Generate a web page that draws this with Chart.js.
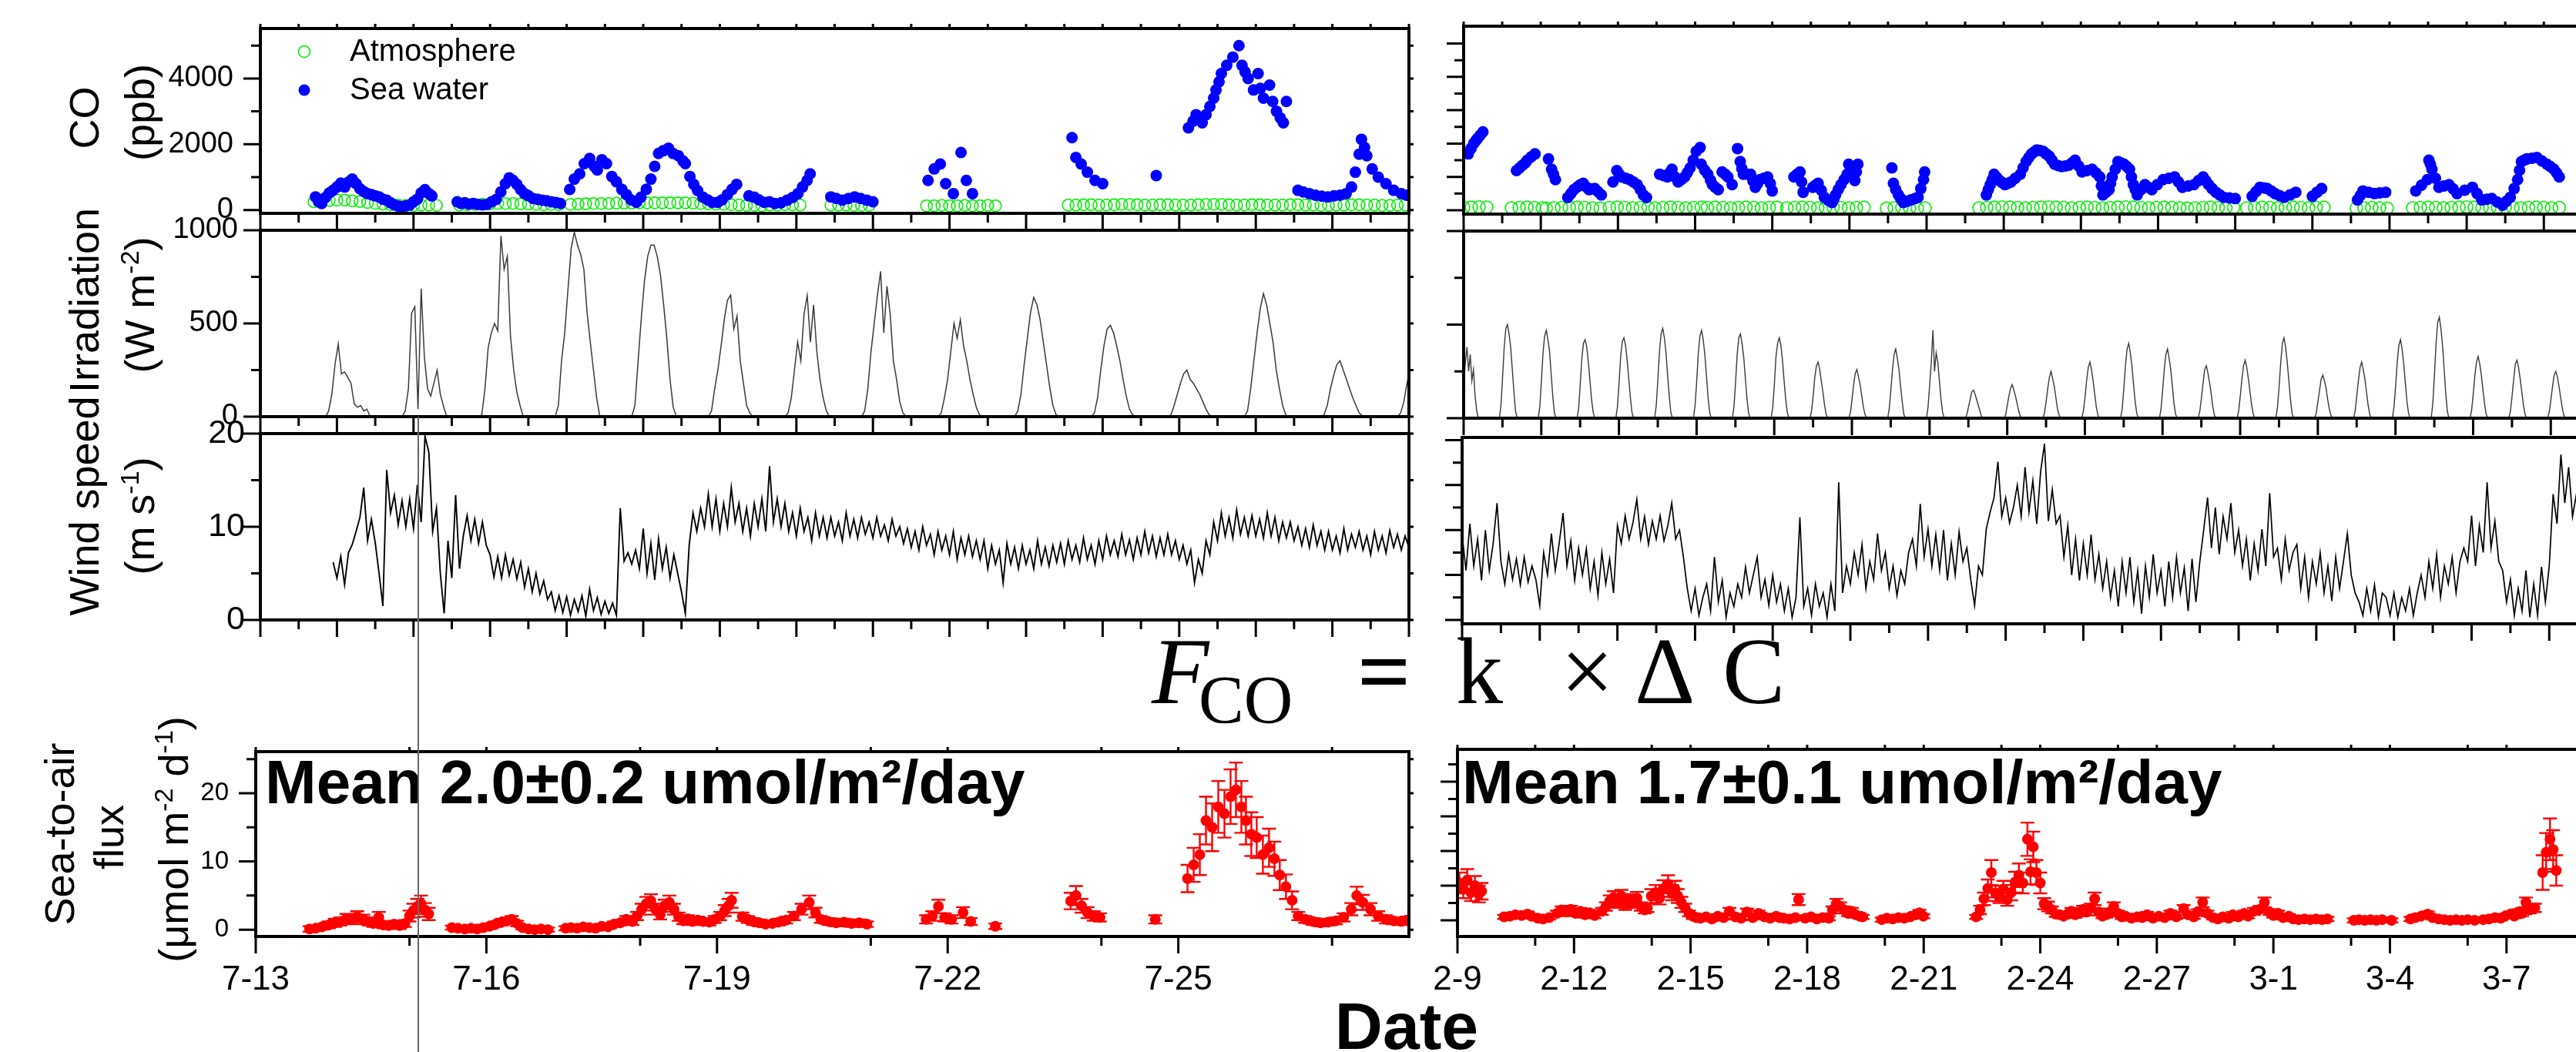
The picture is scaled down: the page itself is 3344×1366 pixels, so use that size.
<!DOCTYPE html>
<html>
<head>
<meta charset="utf-8">
<script src="https://cdn.jsdelivr.net/npm/chart.js@4.4.0/dist/chart.umd.min.js"></script>
<style>
  html, body { margin: 0; padding: 0; background: #fff; overflow: hidden; width: 3344px; height: 1366px; }
  canvas { position: absolute; }
  svg { position: absolute; left: 0; top: 0; }
</style>
</head>
<body>
<canvas id="coL"></canvas><canvas id="irrL"></canvas><canvas id="windL"></canvas><canvas id="fluxL"></canvas>
<canvas id="coR"></canvas><canvas id="irrR"></canvas><canvas id="windR"></canvas><canvas id="fluxR"></canvas>

<svg width="3344" height="1366" font-family="Liberation Sans, Arial, sans-serif">
  <g font-size="54" fill="#000">
    <text transform="translate(128,153) rotate(-90)" text-anchor="middle">CO</text>
    <text transform="translate(200,146) rotate(-90)" text-anchor="middle">(ppb)</text>
    <text transform="translate(128,390) rotate(-90)" text-anchor="middle">Irradiation</text>
    <text transform="translate(200,396) rotate(-90)" text-anchor="middle">(W m<tspan dy="-20" font-size="34">-2</tspan><tspan dy="20">)</tspan></text>
    <text transform="translate(128,657) rotate(-90)" text-anchor="middle">Wind speed</text>
    <text transform="translate(200,670) rotate(-90)" text-anchor="middle">(m s<tspan dy="-20" font-size="34">-1</tspan><tspan dy="20">)</tspan></text>
    <text transform="translate(96,1083) rotate(-90)" text-anchor="middle">Sea-to-air</text>
    <text transform="translate(160,1087) rotate(-90)" text-anchor="middle">flux</text>
    <text transform="translate(244,1090) rotate(-90)" text-anchor="middle">(μmol m<tspan dy="-20" font-size="34">-2</tspan><tspan dy="20"> d</tspan><tspan dy="-20" font-size="34">-1</tspan><tspan dy="20">)</tspan></text>
  </g>
  <g font-family="Liberation Serif, DejaVu Serif, serif" fill="#000">
    <text x="1495" y="913" font-size="122" font-style="italic">F</text>
    <text x="1556" y="938" font-size="88">CO</text>
    <text x="1762" y="913" font-size="122" font-weight="bold">=</text>
    <text x="1890" y="913" font-size="122">k</text>
    <text x="2026" y="913" font-size="122">×</text>
    <text x="2122" y="913" font-size="122">Δ</text>
    <text x="2236" y="913" font-size="122">C</text>
  </g>
  <text x="1826" y="1362" text-anchor="middle" font-size="86" font-weight="bold">Date</text>
  <line x1="543" y1="541" x2="543" y2="1366" stroke="#666" stroke-width="2"/>
</svg>

<script>
// ---- axis labels ----
const leftDays = [0, 3, 6, 9, 12];
const leftDates = ['7-13', '7-16', '7-19', '7-22', '7-25'];
const rightDays = [0, 3, 6, 9, 12, 15, 18, 21, 24, 27];
const rightDates = ['2-9', '2-12', '2-15', '2-18', '2-21', '2-24', '2-27', '3-1', '3-4', '3-7'];
const meanLeft = 'Mean 2.0±0.2 umol/m²/day';
const meanRight = 'Mean 1.7±0.1 umol/m²/day';

// ---- CO (ppb), days since 7-13 / 2-9 ----
const coSeaL = [
  [0.72,400],[0.76,250],[0.8,200],[0.85,380],[0.9,520],[0.95,600],[1.0,700],[1.05,820],[1.1,700],[1.15,850],[1.2,940],[1.25,800],[1.3,650],[1.35,560],[1.4,500],[1.45,470],[1.5,430],[1.55,400],[1.6,330],[1.65,300],[1.7,220],[1.75,160],[1.8,120],[1.85,100],[1.9,130],[1.95,150],[2.0,250],[2.05,330],[2.1,520],[2.15,620],[2.2,500],[2.24,430],
  [2.57,250],[2.62,200],[2.67,220],[2.72,180],[2.78,200],[2.84,170],[2.9,160],[2.96,170],[3.02,250],[3.08,320],[3.14,550],[3.2,800],[3.25,980],[3.3,900],[3.35,780],[3.4,620],[3.45,500],[3.5,440],[3.56,350],[3.62,330],[3.68,300],[3.74,280],[3.8,250],[3.86,230],[3.92,200],
  [4.04,627],[4.1,940],[4.17,1100],[4.23,1410],[4.3,1570],[4.36,1330],[4.4,1220],[4.46,1530],[4.52,1410],[4.59,1020],[4.65,860],[4.72,630],[4.78,470],[4.84,310],[4.91,235],[4.97,390],[5.04,630],[5.1,940],[5.15,1330],[5.2,1720],[5.26,1800],[5.33,1880],[5.39,1720],[5.46,1650],[5.52,1490],[5.55,1410],[5.61,1020],[5.66,780],[5.71,590],[5.78,390],[5.84,310],[5.9,235],[5.97,235],[6.03,310],[6.1,470],[6.16,630],[6.22,780],
  [6.38,430],[6.45,390],[6.51,310],[6.58,235],[6.65,250],[6.72,200],[6.8,220],[6.88,300],[6.95,380],[7.02,500],[7.08,700],[7.14,900],[7.18,1100],
  [7.45,400],[7.52,350],[7.6,300],[7.68,350],[7.76,400],[7.84,350],[7.92,300],[8.0,250],
  [8.72,900],[8.8,1250],[8.88,1400],[8.95,800],[9.05,500],[9.15,1750],[9.22,900],[9.3,500],
  [10.6,2200],[10.65,1600],[10.72,1400],[10.8,1150],[10.9,900],[11.0,800],
  [11.7,1050],
  [12.12,2500],[12.18,2700],[12.22,2900],[12.3,2650],[12.35,2900],[12.4,3150],[12.45,3400],[12.48,3650],[12.52,3900],[12.55,4150],[12.62,4400],[12.7,4650],[12.78,5000],[12.82,4400],[12.86,4200],[12.9,4000],[12.97,3650],[13.03,4150],[13.06,3700],[13.1,3400],[13.18,3800],[13.22,3300],[13.27,3000],[13.32,2800],[13.36,2650],[13.4,3300],
  [13.55,600],[13.62,550],[13.7,500],[13.78,450],[13.86,420],[13.94,400],[14.02,430],[14.1,450],[14.18,500],[14.25,700],[14.3,1150],[14.35,1700],[14.38,2150],[14.42,1900],[14.45,1650],[14.52,1250],[14.6,1000],[14.7,800],[14.8,600],[14.9,500],[14.97,450]
];
const atmLStart = [0.7, 2.6, 4.05, 6.65, 7.45, 8.7, 10.55];
const atmL = [
  [250,270,290,300,300,280,260,230,200,180,160,150,140,140,150,150,140],
  [150,160,170,180,190,200,200,200,190,180,170,160,170,160],
  [170,180,190,200,200,200,210,210,210,220,220,220,220,220,220,220,210,200,190,180,170,160,150,140,140,130],
  [150,150,160,160,150],
  [150,150,150,140,140,140],
  [130,130,140,130,130,140,130,130,140,130],
  [150,150,160,160,150,150,160,170,170,160,150,150,160,160,150,150,150,160,170,170,170,160,150,150,160,160,150,150,150,160,160,150,150,140,140,150,150,160,160,150,150,140,140,150,150]
];
const coSeaR = [
  [0.12,1690],[0.19,1850],[0.26,2000],[0.31,2080],[0.36,2150],[0.43,2250],[0.5,2350],
  [1.37,1190],[1.45,1270],[1.53,1350],[1.6,1420],[1.65,1500],[1.75,1600],[1.85,1690],
  [2.2,1540],[2.28,1230],[2.33,1080],[2.38,920],
  [2.7,380],[2.78,500],[2.86,620],[2.95,700],[3.02,760],[3.1,810],[3.18,700],[3.25,620],[3.33,640],[3.4,650],[3.48,560],[3.57,460],
  [3.87,850],[3.97,1190],[4.03,1080],[4.1,1000],[4.2,960],[4.3,920],[4.4,850],[4.5,770],[4.58,620],[4.66,460],[4.74,380],
  [5.08,1080],[5.18,1040],[5.28,1000],[5.34,1120],[5.4,1230],[5.48,1000],[5.56,850],[5.64,920],[5.73,1000],[5.8,1130],[5.87,1270],[5.95,1500],[6.03,1770],[6.13,1880],[6.16,1380],
  [6.25,1200],[6.33,1080],[6.4,900],[6.45,770],[6.52,690],[6.6,620],[6.7,1150],[6.78,1080],[6.85,1000],[6.96,770],[7.1,1850],[7.17,1460],[7.21,1250],[7.25,1080],[7.35,1080],[7.44,1080],[7.5,880],[7.56,690],[7.62,800],[7.68,920],[7.78,960],[7.88,1000],[7.95,800],[8.0,580],
  [8.56,1000],[8.64,1080],[8.72,1150],[8.76,850],[8.8,540],
  [9.05,690],[9.12,750],[9.19,810],[9.27,600],[9.35,390],[9.45,300],[9.55,230],[9.6,350],[9.64,460],[9.71,620],[9.78,770],[9.86,920],[9.94,1080],[9.98,1380],[10.06,1150],[10.14,890],[10.18,1150],[10.22,1380],
  [11.1,1270],[11.14,810],[11.2,620],[11.27,460],[11.33,350],[11.4,230],[11.5,270],[11.6,310],[11.7,350],[11.78,390],[11.85,650],[11.92,920],[11.95,1150],
  [13.55,460],[13.6,620],[13.65,770],[13.7,920],[13.75,1080],[13.82,980],[13.89,890],[13.96,830],[14.03,770],[14.11,810],[14.19,850],[14.3,960],[14.43,1080],[14.5,1270],[14.58,1460],[14.65,1580],[14.72,1690],[14.79,1750],[14.86,1810],[14.94,1790],[15.02,1770],[15.1,1690],[15.18,1620],[15.25,1500],[15.32,1380],[15.41,1340],[15.5,1310],[15.6,1330],[15.69,1350],[15.77,1420],[15.85,1500],[15.94,1330],[16.03,1150],[16.16,1190],[16.29,1230],[16.39,1120],[16.49,1000],[16.53,730],[16.57,460],[16.65,540],[16.73,620],[16.77,810],[16.81,1000],[16.89,1230],[16.96,1460],[17.04,1420],[17.12,1380],[17.19,1310],[17.26,1230],[17.31,1000],[17.36,770],[17.41,620],[17.46,460],[17.56,620],[17.66,770],[17.75,690],[17.84,620],[17.98,770],[18.13,920],[18.28,960],[18.43,1000],[18.53,850],[18.63,690],[18.78,730],[18.93,770],[19.05,890],[19.17,1000],[19.24,880],[19.31,770],[19.4,650],[19.5,540],[19.6,460],[19.7,390],[19.85,370],[20.0,350],
  [20.44,420],[20.54,560],[20.64,690],[20.74,670],[20.83,650],[20.93,580],[21.03,500],[21.15,440],[21.27,390],[21.42,460],[21.57,540],
  [22.0,420],[22.12,540],[22.24,650],
  [23.17,310],[23.24,440],[23.31,580],[23.46,540],[23.61,500],[23.75,520],[23.9,540],
  [24.68,580],[24.83,750],[24.98,920],[25.02,1500],[25.06,1380],[25.1,1230],[25.19,960],[25.28,690],[25.41,730],[25.54,770],[25.65,640],[25.75,500],[25.95,600],[26.15,690],[26.27,500],[26.39,310],[26.52,330],[26.65,350],[26.79,250],[26.93,150],[27.03,270],[27.13,390],[27.23,650],[27.32,920],[27.37,1200],[27.42,1460],[27.49,1500],[27.56,1540],[27.69,1560],[27.82,1580],[27.95,1480],[28.08,1380],[28.17,1310],[28.26,1230],[28.33,1120],[28.4,1000]
];
const atmRStart = [0.0, 1.24, 2.14, 3.78, 4.96, 6.32, 8.38, 10.96, 13.36, 20.3, 23.14, 24.6];
const atmR = [
  [80,90,100,90],
  [70,80,90,80,70],
  [60,70,80,80,90,80,70,60],
  [80,90,80,70,80,90],
  [70,80,90,80,70,80,90],
  [80,90,80,70,80,90,80,70,80,90],
  [70,80,90,80,70,80,90,80,70,80,90],
  [60,70,80,70,60,70],
  [70,80,90,100,90,80,70,80,90,100,90,80,70,80,90,80,70,80,90,100,90,80,70,80,90,80,70,60,70,80,90,80,70,80],
  [70,80,90,80,70,80,90,80,70,80,90],
  [60,70,80,70,60],
  [70,80,90,80,70,80,90,100,90,80,70,80,90,80,70,80,90,80,70,80]
];

// ---- Irradiation (W m-2), hourly from sunrise ----
const irrLDays = [0.85,1.85,2.85,3.85,4.85,5.85,6.85,7.85,8.85,9.85,10.85,11.85,12.85,13.85,14.85];
const irrL = [
  [0,30,120,280,390,230,240,210,180,70,50,60,30,40,0],
  [0,30,150,555,590,40,687,320,150,110,180,250,120,56,0],
  [0,10,150,370,450,500,460,970,790,860,430,250,130,60,0],
  [0,60,300,450,680,900,990,920,870,790,560,400,250,100,0],
  [0,60,300,530,730,860,920,920,860,760,600,420,200,50,0],
  [0,30,150,250,380,520,625,653,470,540,300,180,60,20,0],
  [0,20,100,250,400,300,550,650,400,600,350,200,100,30,0],
  [0,30,150,350,500,650,780,450,700,550,300,200,80,20,0],
  [0,20,100,200,350,500,420,520,380,300,200,120,50,10,0],
  [0,30,120,280,420,560,640,600,520,400,280,160,60,10,0],
  [0,20,100,250,380,470,490,450,380,300,200,110,40,10,0],
  [0,10,60,120,180,230,250,200,180,150,120,80,40,10,0],
  [0,30,150,300,450,580,660,600,500,400,250,150,60,10,0],
  [0,10,60,150,220,280,300,250,200,150,100,60,20,5,0],
  [0,20,80,180,260,250,240,200,150,100,60,30,10,0,0]
];
const irrRDays = [-0.08,0.92,1.92,2.92,3.92,4.92,5.92,6.92,7.92,8.92,9.92,10.92,11.92,12.92,13.92,14.92,15.92,16.92,17.92,18.92,19.92,20.92,21.92,22.92,23.92,24.92,25.92,26.92,27.92];
const irrR = [
  [0,60,180,300,380,250,340,200,260,120,40,0],
  [0,70,220,380,480,500,450,380,260,140,40,0],
  [0,60,200,350,440,470,420,360,240,120,30,0],
  [0,50,180,320,400,420,380,300,200,100,30,0],
  [0,60,190,330,410,430,390,310,210,110,30,0],
  [0,70,210,360,450,480,430,350,230,120,30,0],
  [0,70,200,350,440,470,420,340,230,110,30,0],
  [0,60,190,340,430,450,400,330,220,110,30,0],
  [0,60,180,330,400,430,390,310,200,100,30,0],
  [0,40,120,220,280,300,260,200,140,70,20,0],
  [0,30,100,180,240,260,220,180,120,60,20,0],
  [0,50,150,260,340,370,320,260,170,90,20,0],
  [0,60,180,300,470,250,350,300,200,100,30,0],
  [0,20,60,100,140,150,130,100,70,40,10,0],
  [0,20,70,120,160,180,150,120,80,40,10,0],
  [0,30,90,160,220,250,210,170,110,50,15,0],
  [0,40,110,200,270,300,260,200,130,60,15,0],
  [0,50,160,280,370,400,350,280,180,90,25,0],
  [0,50,150,260,340,370,320,260,170,80,20,0],
  [0,40,110,190,260,280,240,190,130,60,15,0],
  [0,40,120,210,280,310,270,210,140,70,20,0],
  [0,60,170,300,400,430,380,300,200,100,25,0],
  [0,30,90,150,210,230,200,160,100,50,15,0],
  [0,40,120,200,270,300,260,210,140,70,20,0],
  [0,60,170,300,390,420,370,290,190,90,25,0],
  [0,80,230,400,510,540,480,390,260,130,35,0],
  [0,45,130,230,300,330,290,230,150,75,20,0],
  [0,40,120,210,290,310,270,210,140,70,20,0],
  [0,35,100,170,230,250,220,170,110,55,15,0]
];

// ---- Wind speed (m s-1) ----
const windLStart = 0.95;  // every 0.05 day
const windL = [
  6.2,4.5,6.8,3.8,7.2,8.1,9.5,11.0,14.2,8.5,
  10.8,8.3,5.0,1.5,16.1,11.5,13.4,10.2,12.8,10.0,
  13.0,9.8,14.5,10.5,19.7,18.0,9.5,12.0,5.0,0.7,
  8.5,4.5,13.4,5.5,9.0,11.2,8.5,10.8,8.2,10.5,
  8.0,7.0,4.6,6.8,4.5,7.0,4.8,6.5,4.4,6.2,
  3.5,5.5,3.0,5.0,2.8,4.2,2.2,3.0,1.0,2.6,
  0.8,2.5,0.5,2.2,0.9,2.6,0.4,3.3,1.0,2.4,
  0.6,2.0,0.7,1.8,0.5,12.0,6.3,7.2,6.0,7.5,
  5.5,9.8,5.0,8.2,4.3,8.7,5.5,7.8,4.5,7.0,
  5.0,3.0,0.7,8.0,11.5,9.5,12.0,10.0,13.5,10.0,
  13.0,9.5,12.5,10.0,14.2,10.5,12.5,9.5,12.0,9.0,
  12.5,10.0,13.0,9.5,16.5,10.5,13.0,10.0,12.5,9.5,
  11.5,9.0,12.0,9.5,11.0,8.5,11.5,9.0,11.0,8.8,
  11.0,9.0,10.5,8.5,11.5,9.0,10.8,8.8,11.0,9.2,
  10.5,8.8,11.0,9.0,10.2,8.5,10.8,9.0,10.0,8.2,
  9.8,7.8,9.5,7.5,10.0,8.0,9.2,7.0,9.5,7.5,
  9.0,7.0,9.5,6.5,8.8,7.0,9.0,6.8,8.5,6.5,
  8.5,5.5,8.0,6.0,7.5,4.0,8.2,6.0,7.8,5.5,
  8.0,6.0,7.5,5.5,8.5,6.0,7.8,5.8,8.0,6.2,
  8.2,6.0,8.5,6.5,8.0,6.2,8.8,6.5,8.0,6.0,
  8.5,6.5,9.0,7.0,8.5,6.8,9.2,7.0,8.6,6.5,
  8.8,7.0,9.5,7.2,9.0,6.8,8.8,7.0,9.2,7.0,
  8.5,6.5,8.0,6.0,7.5,4.0,6.5,5.0,8.5,7.0,
  10.5,8.5,11.5,9.0,11.0,8.8,11.8,9.2,11.0,9.0,
  11.2,9.0,10.8,8.8,11.5,9.0,11.0,8.5,10.5,8.8,
  10.5,8.5,10.0,8.0,9.8,7.8,10.2,8.0,9.5,7.5,
  9.5,7.5,9.0,7.2,9.8,7.5,9.2,7.8,9.5,7.5,
  9.0,7.0,9.5,7.5,9.0,7.2,9.6,7.8,9.2,7.5,
  9.0,7.8
];
const windRStart = 0;  // every 0.1 day
const windR = [
  9.5,5.5,10.7,6.0,9.0,4.4,10.0,5.5,8.5,13.0,
  6.5,4.0,7.3,4.5,6.8,3.9,7.0,4.2,6.0,4.5,
  1.6,7.5,5.0,9.6,5.5,8.5,11.9,6.0,8.8,4.4,
  8.0,5.0,7.9,3.5,6.5,2.7,7.5,4.0,6.8,3.0,
  10.5,8.5,11.6,9.0,10.8,13.4,9.0,11.5,8.4,11.0,
  9.0,11.6,8.8,10.5,13.0,9.0,10.0,7.0,3.5,1.0,
  3.5,0.5,2.5,4.0,1.0,7.0,2.0,4.4,0.3,3.0,
  1.5,4.0,2.5,5.9,3.0,5.0,7.0,2.5,4.5,1.6,
  5.0,2.0,4.0,1.0,3.5,0.3,2.5,11.4,1.5,3.5,
  0.5,4.0,1.5,3.0,0.3,4.0,1.0,15.3,3.0,6.0,
  4.0,7.5,5.0,8.4,3.5,6.5,4.5,9.6,5.5,7.5,
  3.5,6.0,2.7,5.5,4.0,7.5,9.0,6.0,12.9,7.0,
  10.1,6.0,9.5,5.5,10.0,4.4,8.5,5.0,9.8,6.5,
  8.0,4.5,1.6,6.0,5.0,10.1,12.0,13.6,17.6,11.5,
  13.6,10.8,12.5,15.0,11.5,17.0,12.0,15.5,10.7,16.5,
  19.6,11.0,14.5,10.7,11.6,7.0,10.5,5.0,9.0,4.4,
  8.5,5.0,9.5,4.5,7.3,3.5,6.5,2.5,5.5,1.5,
  6.5,3.0,7.0,2.0,5.5,0.7,6.0,2.5,7.3,3.0,
  5.5,1.5,6.5,2.5,7.0,3.0,5.8,1.0,6.8,2.0,
  6.5,10.0,13.6,8.0,12.5,7.3,11.5,9.0,13.0,7.5,
  10.0,6.0,9.0,4.4,8.5,5.5,10.1,6.0,14.1,7.0,
  8.0,4.5,9.0,5.5,7.5,8.4,3.5,7.0,2.5,6.5,
  4.0,7.5,3.0,6.0,2.1,7.0,3.5,6.5,9.6,5.0,
  3.0,2.0,0.5,3.5,1.0,3.9,0.3,3.0,2.5,0.5,
  3.0,0.3,2.5,1.0,3.5,0.5,3.0,5.0,2.5,6.5,
  3.5,7.3,2.5,6.0,4.0,7.0,3.0,6.5,8.0,6.5,
  11.6,6.0,10.5,7.5,15.3,8.0,11.0,6.5,5.5,2.0,
  4.5,0.5,3.5,1.0,5.5,0.3,4.0,0.5,5.9,2.0,
  6.0,14.0,10.7,18.4,13.0,17.0,11.5,14.0,12.0,15.0
];

// ---- Sea-to-air flux [day, value, error] ----
const fluxL = [
  [0.70,0.1,0.4],[0.78,0.2,0.4],[0.86,0.4,0.4],[0.95,0.7,0.5],[1.03,1.0,0.6],[1.1,1.2,0.6],[1.18,1.6,0.7],[1.25,1.5,0.7],[1.32,1.9,0.8],[1.4,1.5,0.7],[1.47,1.2,0.6],[1.53,0.9,0.5],[1.6,1.8,0.8],[1.66,0.7,0.5],[1.73,0.6,0.5],[1.8,0.8,0.5],[1.87,0.6,0.5],[1.94,0.9,0.5],[2.0,2.0,0.8],[2.05,2.8,1.0],[2.1,3.4,1.1],[2.15,3.8,1.2],[2.2,2.9,1.0],[2.25,2.3,0.9],
  [2.55,0.3,0.3],[2.63,0.2,0.3],[2.72,0.1,0.3],[2.8,0.2,0.3],[2.88,0.1,0.3],[2.96,0.3,0.3],[3.04,0.5,0.4],[3.12,0.8,0.4],[3.2,1.1,0.5],[3.27,1.3,0.5],[3.33,1.5,0.5],[3.4,0.9,0.4],[3.47,0.3,0.3],[3.55,0.1,0.3],[3.63,0.0,0.3],[3.71,0.1,0.3],[3.8,0.0,0.3],
  [4.03,0.2,0.3],[4.1,0.3,0.3],[4.18,0.2,0.3],[4.26,0.4,0.3],[4.34,0.3,0.3],[4.42,0.2,0.3],[4.5,0.5,0.3],[4.58,0.4,0.3],[4.66,0.8,0.4],[4.74,1.0,0.4],[4.82,1.5,0.5],[4.9,1.2,0.5],[4.96,2.0,0.6],[5.02,3.0,0.8],[5.08,3.8,1.0],[5.14,4.2,1.0],[5.2,3.0,0.8],[5.26,2.2,0.7],[5.32,3.5,0.9],[5.38,4.0,1.0],[5.44,3.0,0.8],[5.5,1.9,0.6],[5.56,1.3,0.5],[5.62,1.6,0.5],[5.68,1.2,0.5],[5.75,1.4,0.5],[5.82,1.2,0.5],[5.9,1.1,0.5],[5.97,1.5,0.5],[6.04,2.0,0.6],[6.1,2.8,0.8],[6.15,3.5,1.0],[6.19,4.3,1.1],
  [6.33,1.9,0.6],[6.4,1.5,0.5],[6.47,1.2,0.5],[6.55,1.0,0.5],[6.63,0.8,0.4],[6.72,0.9,0.4],[6.8,1.1,0.5],[6.9,1.4,0.5],[7.0,2.0,0.6],[7.1,3.0,0.8],[7.2,4.0,1.0],[7.28,2.5,0.7],[7.35,1.5,0.5],
  [7.45,1.2,0.5],[7.55,1.0,0.5],[7.65,1.1,0.5],[7.75,0.9,0.5],[7.85,1.0,0.5],[7.95,0.8,0.4],
  [8.72,1.5,0.6],[8.8,2.0,0.7],[8.88,3.4,1.0],[8.96,1.8,0.6],[9.05,1.5,0.6],[9.2,2.5,0.8],[9.3,1.2,0.5],[9.62,0.5,0.4],
  [10.6,4.2,1.2],[10.67,5.0,1.4],[10.74,3.5,1.0],[10.82,2.5,0.8],[10.9,2.0,0.7],[10.98,1.8,0.6],[11.7,1.5,0.6],
  [12.12,7.5,2.0],[12.2,9.5,2.5],[12.28,11,3],[12.36,16,3.5],[12.44,15,3.5],[12.52,18,3.8],[12.6,17,3.5],[12.68,19.5,4],[12.75,20.5,4],[12.82,18,3.8],[12.88,16,3.5],[12.95,14,3.2],[13.02,13.5,3.0],[13.1,11,2.8],[13.18,12,2.8],[13.25,10.4,2.5],[13.32,8,2.2],[13.4,6.3,1.8],[13.48,4.3,1.3],
  [13.56,2.0,0.6],[13.65,1.5,0.5],[13.75,1.2,0.5],[13.85,1.0,0.5],[13.95,1.1,0.5],[14.05,1.3,0.5],[14.15,1.8,0.6],[14.25,3.0,0.9],[14.32,5.0,1.3],[14.4,4.0,1.1],[14.5,3.0,0.9],[14.6,2.0,0.7],[14.7,1.5,0.6],[14.8,1.3,0.5],[14.9,1.2,0.5],[14.97,1.4,0.5]
];
const fluxR = [
  [0.05,5.4,1.5],[0.15,4.5,1.3],[0.25,5.8,1.6],[0.35,4.0,1.2],[0.45,5.0,1.4],[0.55,3.8,1.2],[0.62,4.2,1.2],
  [1.2,0.5,0.3],[1.35,0.6,0.3],[1.49,0.8,0.3],[1.65,0.7,0.3],[1.8,0.9,0.4],[1.9,0.6,0.3],
  [2.07,0.3,0.3],[2.2,0.2,0.3],[2.36,0.4,0.3],
  [2.56,1.0,0.4],[2.68,1.5,0.5],[2.8,1.2,0.5],[2.92,1.6,0.5],[3.04,1.0,0.4],[3.16,1.3,0.5],[3.28,0.8,0.4],[3.4,1.1,0.4],[3.53,0.7,0.4],
  [3.72,1.3,0.5],[3.82,2.0,0.6],[3.92,2.8,0.8],[4.02,3.3,0.9],[4.12,2.5,0.7],[4.22,3.5,0.9],[4.32,2.2,0.7],[4.42,3.0,0.8],[4.52,2.5,0.7],[4.62,3.2,0.9],[4.72,2.0,0.6],[4.82,1.5,0.5],[4.89,1.8,0.6],
  [4.99,3.5,1.0],[5.1,4.0,1.1],[5.2,3.2,0.9],[5.3,4.6,1.2],[5.42,5.2,1.3],[5.52,4.0,1.1],[5.6,4.5,1.2],[5.67,3.5,1.0],[5.76,2.6,0.8],[5.86,1.8,0.6],[5.96,1.0,0.4],[6.06,0.6,0.4],[6.15,0.4,0.3],
  [6.25,0.3,0.3],[6.4,0.5,0.3],[6.55,0.2,0.3],[6.7,0.6,0.3],[6.85,0.4,0.3],[7.0,1.3,0.5],[7.15,0.5,0.3],[7.3,0.3,0.3],[7.45,1.2,0.5],[7.6,0.4,0.3],[7.75,1.0,0.4],[7.9,0.5,0.3],[8.05,0.3,0.3],[8.2,0.6,0.3],[8.29,0.4,0.3],
  [8.4,0.3,0.3],[8.55,0.2,0.3],[8.7,0.4,0.3],[8.78,3.0,0.8],[8.95,0.3,0.3],[9.1,0.5,0.3],[9.25,0.2,0.3],[9.4,0.4,0.3],[9.56,0.3,0.3],
  [9.65,1.5,0.5],[9.75,2.4,0.7],[9.85,2.0,0.6],[9.95,1.5,0.5],[10.05,1.0,0.4],[10.15,1.3,0.5],[10.25,0.8,0.4],[10.35,0.6,0.3],[10.43,0.5,0.3],
  [10.92,0.1,0.3],[11.05,0.3,0.3],[11.2,0.2,0.3],[11.35,0.4,0.3],[11.5,0.3,0.3],[11.65,0.5,0.3],[11.8,0.8,0.4],[11.89,1.1,0.4],[11.99,0.6,0.3],
  [13.35,0.5,0.3],[13.45,1.5,0.6],[13.55,3.1,0.9],[13.65,4.6,1.3],[13.74,6.9,1.8],[13.85,3.9,1.1],[13.95,3.5,1.0],[14.05,4.5,1.2],[14.15,3.0,0.9],[14.25,4.0,1.1],[14.35,5.5,1.5],[14.45,6.5,1.7],[14.55,5.4,1.5],[14.67,11.7,2.4],[14.75,7.0,1.8],[14.82,10.6,2.2],[14.9,6.9,1.8],[15.0,5.4,1.5],[15.1,2.4,0.8],[15.2,2.0,0.7],[15.3,1.5,0.5],[15.4,0.9,0.4],
  [15.5,0.8,0.4],[15.6,0.6,0.3],[15.7,0.9,0.4],[15.8,1.3,0.5],[15.9,0.8,0.4],[16.0,1.0,0.4],[16.1,1.6,0.5],[16.2,1.2,0.5],[16.3,1.8,0.6],[16.4,3.1,0.9],[16.5,1.2,0.5],[16.6,0.6,0.3],[16.7,0.8,0.4],[16.8,1.2,0.5],[16.89,2.0,0.6],[17.0,1.0,0.4],[17.1,0.5,0.3],[17.2,0.6,0.3],[17.35,0.3,0.3],[17.5,0.5,0.3],[17.62,0.4,0.3],[17.75,0.8,0.4],[17.9,0.3,0.3],[18.05,0.6,0.3],[18.2,0.4,0.3],[18.35,1.0,0.4],[18.5,0.5,0.3],[18.69,1.7,0.5],[18.8,0.8,0.4],[18.95,0.5,0.3],[19.05,1.2,0.4],[19.18,2.6,0.7],[19.3,1.0,0.4],[19.45,0.4,0.3],[19.57,0.2,0.3],
  [19.7,0.5,0.3],[19.85,0.3,0.3],[19.96,0.8,0.4],[20.1,0.5,0.3],[20.25,1.0,0.4],[20.35,0.6,0.3],[20.5,1.3,0.5],[20.65,1.6,0.5],[20.77,2.6,0.7],[20.9,1.2,0.4],[21.0,0.7,0.3],[21.12,1.0,0.4],[21.25,0.4,0.3],[21.4,0.6,0.3],[21.51,0.2,0.3],[21.65,0.1,0.3],[21.8,0.2,0.3],[21.95,0.1,0.3],[22.1,0.2,0.3],[22.25,0.1,0.3],[22.39,0.2,0.3],
  [23.07,0.0,0.3],[23.2,0.1,0.3],[23.35,0.0,0.3],[23.5,0.1,0.3],[23.65,0.0,0.3],[23.8,0.1,0.3],[24.04,0.0,0.3],
  [24.53,0.2,0.3],[24.65,0.4,0.3],[24.8,0.6,0.3],[24.97,0.9,0.4],[25.1,0.4,0.3],[25.25,0.2,0.3],[25.4,0.1,0.3],[25.55,0.0,0.3],[25.7,0.1,0.3],[25.85,0.0,0.3],[26.0,0.1,0.3],[26.18,0.0,0.3],
  [26.4,0.1,0.3],[26.55,0.2,0.3],[26.7,0.4,0.3],[26.85,0.3,0.3],[26.96,0.6,0.3],[27.1,0.9,0.4],[27.2,0.6,0.3],[27.3,1.2,0.4],[27.4,1.0,0.4],[27.5,2.6,0.7],[27.6,1.5,0.5],[27.73,1.8,0.6],
  [27.93,6.9,2.5],[28.02,9.8,2.8],[28.12,11.7,3.0],[28.2,10.2,2.8],[28.28,7.2,2.2]
];

// ---------- helpers ----------
const FONT = '"Liberation Sans", Arial, sans-serif';
const range = (a, b, s) => { const o = []; for (let v = a; v <= b + 1e-9; v += s) o.push(+v.toFixed(3)); return o; };
const pairs = arr => arr.map(p => ({x: p[0], y: p[1]}));
const segs = (starts, groups, step) => groups.flatMap((vals, j) => vals.map((v, i) => ({x: starts[j] + i * step, y: v})));

const green = (data, r) => ({label: 'Atmosphere', data, order: 2, pointRadius: r, pointBackgroundColor: 'rgba(255,255,255,0)', pointBorderColor: '#00ee00', pointBorderWidth: 1.6});
const blue = data => ({label: 'Sea water', data, order: 1, pointRadius: 7.5, pointBackgroundColor: '#0000ff', pointBorderColor: '#0000ff', pointBorderWidth: 0});
const line = (data, color, w) => ({data, showLine: true, pointRadius: 0, borderColor: color, borderWidth: w, tension: 0});
const flux = arr => ({data: pairs(arr), errors: arr.map(p => p[2]), pointRadius: 7, pointBackgroundColor: '#ff0000', pointBorderColor: '#ff0000', pointBorderWidth: 0});

// Origin-style frame with outward ticks
const framePlugin = {
  id: 'frame',
  afterDraw(chart, args, o) {
    const {ctx, chartArea: a} = chart;
    const x = chart.scales.x, y = chart.scales.y;
    const inX = v => v >= x.min && v <= x.max, inY = v => v >= y.min && v <= y.max;
    ctx.save();
    ctx.strokeStyle = '#000';
    ctx.lineWidth = 3;
    ctx.beginPath();
    const xt = (vals, len) => (vals || []).filter(inX).forEach(v => {
      const p = x.getPixelForValue(v);
      ctx.moveTo(p, a.bottom); ctx.lineTo(p, a.bottom + len);
      if (o.top) { ctx.moveTo(p, a.top); ctx.lineTo(p, a.top - 6); }
    });
    const yt = (vals, len) => (vals || []).filter(inY).forEach(v => {
      const p = y.getPixelForValue(v);
      ctx.moveTo(a.left - len, p); ctx.lineTo(a.left, p);
      if (o.right) { ctx.moveTo(a.right, p); ctx.lineTo(a.right + 6, p); }
    });
    xt(o.xMaj, 22); xt(o.xMin, 12); yt(o.yMaj, 22); yt(o.yMin, 12);
    ctx.stroke();
    ctx.lineWidth = 4;
    ctx.strokeRect(a.left, a.top, a.right - a.left, a.bottom - a.top);
    ctx.restore();
  }
};

const errorBars = {
  id: 'errorBars',
  beforeDatasetsDraw(chart) {
    const {ctx, chartArea: a} = chart;
    const x = chart.scales.x, y = chart.scales.y;
    chart.data.datasets.forEach(ds => {
      if (!ds.errors) return;
      ctx.save();
      ctx.beginPath(); ctx.rect(a.left, a.top, a.right - a.left, a.bottom - a.top); ctx.clip();
      ctx.strokeStyle = ds.pointBackgroundColor; ctx.lineWidth = 2.4;
      ctx.beginPath();
      ds.data.forEach((p, i) => {
        const px = x.getPixelForValue(p.x), e = ds.errors[i];
        const y1 = y.getPixelForValue(p.y - e), y2 = y.getPixelForValue(p.y + e);
        ctx.moveTo(px, y1); ctx.lineTo(px, y2);
        ctx.moveTo(px - 9, y1); ctx.lineTo(px + 9, y1);
        ctx.moveTo(px - 9, y2); ctx.lineTo(px + 9, y2);
      });
      ctx.stroke();
      ctx.restore();
    });
  }
};

const legendPlugin = {
  id: 'inLegend',
  afterDraw(chart, args, o) {
    if (!o.show) return;
    const {ctx, chartArea: a} = chart;
    ctx.save();
    ctx.font = '40px ' + FONT;
    ctx.textBaseline = 'middle';
    chart.data.datasets.forEach((ds, i) => {
      const cx = a.left + 57, cy = a.top + 30 + i * 50;
      ctx.beginPath(); ctx.arc(cx, cy, 7.5, 0, Math.PI * 2);
      if (ds.pointBorderWidth > 0) { ctx.strokeStyle = ds.pointBorderColor; ctx.lineWidth = ds.pointBorderWidth; ctx.stroke(); }
      else { ctx.fillStyle = ds.pointBackgroundColor; ctx.fill(); }
      ctx.fillStyle = '#000';
      ctx.fillText(ds.label, a.left + 116, cy + 1);
    });
    ctx.restore();
  }
};

const notePlugin = {
  id: 'note',
  afterDraw(chart, args, o) {
    if (!o.text) return;
    const {ctx, chartArea: a} = chart;
    ctx.save();
    ctx.font = 'bold 80px ' + FONT;
    ctx.fillStyle = '#000';
    ctx.textBaseline = 'alphabetic';
    ctx.fillText(o.text, a.left + o.dx, a.top + o.dy);
    ctx.restore();
  }
};

function panel(id, area, xr, yr, c) {
  const mL = c.mL, mB = c.mB, mT = 30, mR = c.mR;
  const cv = document.getElementById(id);
  const W = area.r - area.l + mL + mR, H = area.b - area.t + mT + mB;
  cv.width = W; cv.height = H;
  Object.assign(cv.style, {left: (area.l - mL) + 'px', top: (area.t - mT) + 'px', width: W + 'px', height: H + 'px'});
  const xt = c.xTicks;
  return new Chart(cv, {
    type: 'scatter',
    data: {datasets: c.datasets},
    options: {
      responsive: false, animation: false, devicePixelRatio: 1, events: [],
      layout: {padding: {left: 0, top: mT, right: mR, bottom: 0}},
      plugins: {legend: {display: false}, tooltip: {enabled: false}, frame: c.frame,
                inLegend: {show: !!c.legend}, note: c.note || {}},
      scales: {
        x: {type: 'linear', min: xr[0], max: xr[1],
            grid: {display: false, drawTicks: false}, border: {display: false},
            ticks: {display: !!xt, autoSkip: false, maxRotation: 0, minRotation: 0, padding: 30, color: '#000',
                    font: {family: FONT, size: 44}, callback: v => xt ? xt.labels[xt.days.indexOf(v)] : ''},
            afterBuildTicks: s => { s.ticks = (xt ? xt.days : []).map(v => ({value: v})); },
            afterFit: s => { s.height = mB; s.paddingLeft = 0; s.paddingRight = 0; }},
        y: {type: 'linear', min: yr[0], max: yr[1],
            grid: {display: false, drawTicks: false}, border: {display: false},
            ticks: {display: !!c.yTicks, padding: c.yPad || 30, color: '#000',
                    font: {family: FONT, size: c.ySize || 38}, callback: v => String(v)},
            afterBuildTicks: s => { s.ticks = (c.yTicks || []).map(v => ({value: v})); },
            afterFit: s => { s.width = mL; s.paddingTop = 0; s.paddingBottom = 0; }}
      }
    },
    plugins: [errorBars, framePlugin, legendPlugin, notePlugin]
  });
}

// ---------- layout (page pixels) ----------
const LX = [338, 1829], LFX = [332, 1829], RX = [1900, 3400], RFX = [1892, 3400];
const upL = {xMaj: range(0, 15, 1), xMin: range(0.5, 14.5, 1), right: true};
const upR = {xMaj: range(0, 28, 2), xMin: range(1, 29, 2)};

panel('coL', {l: LX[0], r: LX[1], t: 37, b: 277}, [0, 15], [-100, 5520], {
  mL: 140, mB: 28, mR: 10, yTicks: [0, 2000, 4000], yPad: 35, ySize: 38, legend: true,
  frame: {...upL, top: true, yMaj: [0, 2000, 4000], yMin: [1000, 3000, 5000]},
  datasets: [green(segs(atmLStart, atmL, 0.1), 7.5), blue(pairs(coSeaL))]
});
panel('irrL', {l: LX[0], r: LX[1], t: 299, b: 541}, [0, 15], [0, 1000], {
  mL: 140, mB: 28, mR: 10, yTicks: [0, 500, 1000], yPad: 29, ySize: 38,
  frame: {...upL, yMaj: [0, 500, 1000], yMin: [250, 750]},
  datasets: [line(segs(irrLDays, irrL, 1 / 24), '#3a3a3a', 1.5)]
});
panel('windL', {l: LX[0], r: LX[1], t: 563, b: 805}, [0, 15], [0, 20], {
  mL: 140, mB: 28, mR: 10, yTicks: [0, 10, 20], yPad: 20, ySize: 43,
  frame: {...upL, yMaj: [0, 10, 20], yMin: [5, 15]},
  datasets: [line(segs([windLStart], [windL], 0.05), '#000', 1.9)]
});
panel('fluxL', {l: LFX[0], r: LFX[1], t: 976, b: 1216}, [0, 15], [-1.0, 26.1], {
  mL: 140, mB: 110, mR: 10, yTicks: [0, 10, 20], yPad: 35, ySize: 33,
  xTicks: {days: leftDays, labels: leftDates},
  note: {text: meanLeft, dx: 12, dy: 67},
  frame: {xMaj: leftDays, xMin: [2, 5, 8, 11, 14], top: true, right: true, yMaj: [0, 10, 20], yMin: [5, 15, 25]},
  datasets: [flux(fluxL)]
});

panel('coR', {l: RX[0], r: RX[1], t: 34, b: 278}, [0, 29.76], [-115, 5520], {
  mL: 30, mB: 28, mR: 0,
  frame: {...upR, top: true, yMaj: [0, 1000, 2000, 3000, 4000, 5000], yMin: [500, 1500, 2500, 3500, 4500]},
  datasets: [green(segs(atmRStart, atmR, 0.2), 8), blue(pairs(coSeaR))]
});
panel('irrR', {l: RX[0], r: RX[1], t: 300, b: 543}, [0, 29.76], [0, 1000], {
  mL: 30, mB: 28, mR: 0,
  frame: {...upR, yMaj: [0, 500, 1000], yMin: [250, 750]},
  datasets: [line(segs(irrRDays, irrR, 1 / 24), '#3a3a3a', 1.4)]
});
panel('windR', {l: RX[0] - 2, r: RX[1], t: 568, b: 810}, [0, 29.8], [-0.43, 20.3], {
  mL: 30, mB: 28, mR: 0,
  frame: {...upR, yMaj: [0, 5, 10, 15, 20], yMin: [2.5, 7.5, 12.5, 17.5]},
  datasets: [line(segs([windRStart], [windR], 0.1), '#000', 1.7)]
});
panel('fluxR', {l: RFX[0], r: RFX[1], t: 973, b: 1216}, [0, 29.76], [-2.33, 24.67], {
  mL: 30, mB: 110, mR: 0,
  xTicks: {days: rightDays, labels: rightDates},
  note: {text: meanRight, dx: 6, dy: 70},
  frame: {xMaj: rightDays, xMin: range(2, 29, 3), top: true, yMaj: [0, 5, 10, 15, 20], yMin: [2.5, 7.5, 12.5, 17.5, 22.5]},
  datasets: [flux(fluxR)]
});
</script>
</body>
</html>
